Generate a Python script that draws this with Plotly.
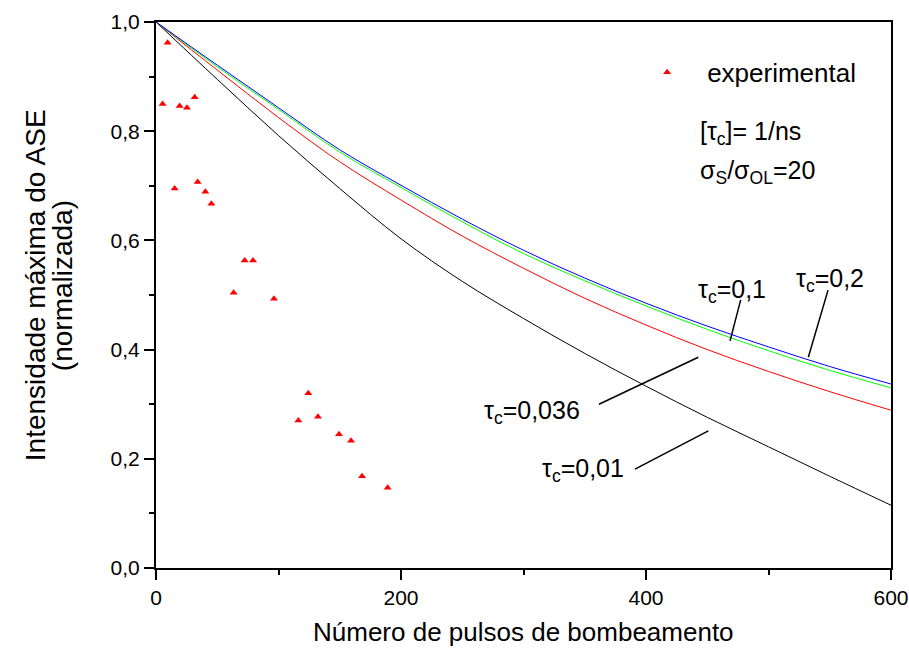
import plotly.graph_objects as go

# Experimental ASE peak intensity (normalized) vs. number of pump pulses
exp_pulses = [5.4, 9.5, 15.2, 19.3, 25.3, 31.6, 34.0, 40.3, 45.2, 63.4,
              72.4, 79.2, 96.3, 116.2, 124.3, 132.2, 149.4, 159.2, 168.2, 189.1]
exp_intensity = [0.850, 0.962, 0.695, 0.846, 0.843, 0.862, 0.707, 0.689, 0.667, 0.504,
                 0.563, 0.563, 0.493, 0.270, 0.320, 0.277, 0.245, 0.233, 0.168, 0.147]

# Model curves for several tau_c values (sampled every 50 pulses)
model_pulses = [0, 50, 100, 150, 200, 250, 300, 350, 400, 450, 500, 550, 600]
tau_020 = [1.0, 0.921, 0.843, 0.766, 0.701, 0.639, 0.582, 0.531, 0.485, 0.443, 0.405, 0.369, 0.337]
tau_010 = [1.0, 0.918, 0.840, 0.762, 0.697, 0.634, 0.576, 0.526, 0.480, 0.437, 0.398, 0.362, 0.330]
tau_0036 = [1.0, 0.912, 0.825, 0.744, 0.674, 0.608, 0.549, 0.494, 0.445, 0.400, 0.360, 0.323, 0.289]
tau_001 = [1.0, 0.895, 0.792, 0.695, 0.603, 0.525, 0.457, 0.393, 0.333, 0.276, 0.222, 0.168, 0.115]

x_ticks = [0, 200, 400, 600]
y_ticks = [0.0, 0.2, 0.4, 0.6, 0.8, 1.0]

FONT = "Liberation Sans, Arial, sans-serif"

fig = go.Figure()
for ys, col in [(tau_001, "#000000"), (tau_0036, "#ff0000"),
                (tau_010, "#00ff00"), (tau_020, "#0000ff")]:
    fig.add_trace(go.Scatter(x=model_pulses, y=ys, mode="lines",
                             line=dict(color=col, width=1, shape="spline", smoothing=1.0),
                             showlegend=False, hoverinfo="skip"))

fig.add_trace(go.Scatter(x=exp_pulses, y=exp_intensity, mode="markers",
                         name="experimental",
                         marker=dict(symbol="triangle-up", size=7, color="#ff0000"),
                         showlegend=True))

axis_common = dict(showline=True, linecolor="black", linewidth=2, mirror=True,
                   ticks="outside", ticklen=10, tickwidth=2, tickcolor="black",
                   showgrid=False, zeroline=False, automargin=False,
                   tickfont=dict(family=FONT, size=21, color="black"))

fig.update_xaxes(range=[0, 600], tickvals=x_ticks,
                 minor=dict(dtick=100, ticks="outside", ticklen=5, tickwidth=2, tickcolor="black"),
                 **axis_common)
fig.update_yaxes(range=[0, 1.0], tickvals=y_ticks, tickformat=".1f",
                 minor=dict(dtick=0.1, ticks="outside", ticklen=5, tickwidth=2, tickcolor="black"),
                 **axis_common)

annotations = [
    dict(text="Número de pulsos de bombeamento", xref="paper", yref="paper",
         x=0.5, y=-0.117, xanchor="center", yanchor="middle", showarrow=False,
         font=dict(size=26)),
    dict(text="Intensidade máxima do ASE", xref="paper", yref="paper",
         x=-0.1646, y=0.518, xanchor="center", yanchor="middle", textangle=-90,
         showarrow=False, font=dict(size=28)),
    dict(text="(normalizada)", xref="paper", yref="paper",
         x=-0.1279, y=0.518, xanchor="center", yanchor="middle", textangle=-90,
         showarrow=False, font=dict(size=28)),
    dict(text="[τ<sub>c</sub>]= 1/ns", xref="paper", yref="paper",
         x=0.737, y=0.797, xanchor="left", yanchor="middle", showarrow=False,
         font=dict(size=25)),
    dict(text="σ<sub>S</sub>/σ<sub>OL</sub>=20", xref="paper", yref="paper",
         x=0.737, y=0.725, xanchor="left", yanchor="middle", showarrow=False,
         font=dict(size=25)),
    dict(text="τ<sub>c</sub>=0,1", x=470, y=0.507, xanchor="center", yanchor="middle",
         showarrow=False, font=dict(size=25)),
    dict(text="τ<sub>c</sub>=0,2", x=550, y=0.527, xanchor="center", yanchor="middle",
         showarrow=False, font=dict(size=25)),
    dict(text="τ<sub>c</sub>=0,036", x=307, y=0.286, xanchor="center", yanchor="middle",
         showarrow=False, font=dict(size=25)),
    dict(text="τ<sub>c</sub>=0,01", x=348.6, y=0.180, xanchor="center", yanchor="middle",
         showarrow=False, font=dict(size=25)),
]

# leader lines from labels to curves
leaders = [
    (477.3, 0.491, 468.6, 0.416),
    (548.6, 0.509, 532.5, 0.386),
    (361.6, 0.300, 442.7, 0.386),
    (391.0, 0.181, 450.9, 0.251),
]
shapes = [dict(type="line", xref="x", yref="y", x0=a, y0=b, x1=c, y1=d,
               line=dict(color="black", width=1.5)) for a, b, c, d in leaders]

fig.update_layout(
    width=909, height=648,
    margin=dict(l=156, r=18, t=22, b=80),
    paper_bgcolor="white", plot_bgcolor="white",
    font=dict(family=FONT, size=25, color="black"),
    separators=",.",
    annotations=annotations,
    shapes=shapes,
    legend=dict(x=0.641, y=0.908, xanchor="left", yanchor="middle",
                bgcolor="rgba(0,0,0,0)", borderwidth=0, itemwidth=70,
                font=dict(family=FONT, size=26, color="black")),
)

fig.write_html("out.html")
